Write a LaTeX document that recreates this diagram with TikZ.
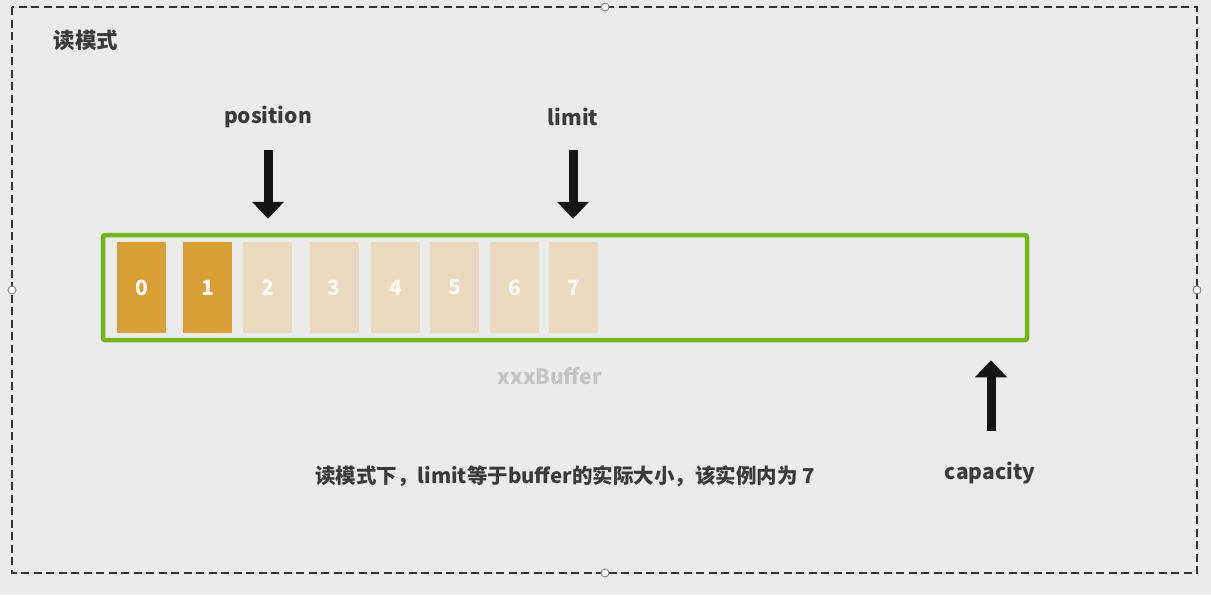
\documentclass[tikz,border=0pt]{standalone}
\usepackage{fontspec}
\setmainfont{Noto Sans CJK SC}
\usetikzlibrary{arrows.meta}
\definecolor{bggray}{HTML}{EBEBEB}
\definecolor{framegray}{HTML}{333333}
\definecolor{textgray}{HTML}{3A3A3A}
\definecolor{bufgreen}{HTML}{72B61C}
\definecolor{darkorange}{HTML}{D99E36}
\definecolor{lightorange}{HTML}{E9D9BF}
\definecolor{pale}{HTML}{C4C4C4}
\tikzset{>={Triangle[width=31pt,length=17pt]}}
\tikzset{
  frame/.style={draw=framegray, line width=2pt, dash pattern=on 8pt off 4.5pt},
  handle/.style={draw=gray, fill=white, line width=0.9pt},
  cell/.style={minimum width=49pt, minimum height=91pt, inner sep=0pt,
    text=white, font=\bfseries\fontsize{21}{21}\selectfont},
  lbl/.style={text=textgray, font=\bfseries\fontsize{21}{21}\selectfont},
  blockarrow/.style={->, line width=9pt, draw=black!92, fill=black!92}
}

\begin{document}
\begin{tikzpicture}[x=1pt,y=-1pt]

\useasboundingbox (0,0) rectangle (1211,595);
\fill[bggray] (0,0) rectangle (1211,595);

%% outer frame
\draw[frame] (12,7) rectangle (1197,573);
\foreach \p in {(605,7),(12,290),(1197,290),(605,573)}
  \draw[handle] \p circle (4pt);

\node[lbl, anchor=west, font=\bfseries\fontsize{21.5}{21.5}\selectfont] (mode) at (50,40) {读模式};

%% buffer
\node[draw=bufgreen, line width=4.5pt, rounded corners=2pt,
  minimum width=924pt, minimum height=105pt] (buf) at (565,287.5) {};
\node[cell, fill=darkorange] (c0) at (141.5,287.5) {0};
\node[cell, fill=darkorange] (c1) at (207.5,287.5) {1};
\foreach \n/\x in {2/267.5,3/334,4/395.5,5/454.5,6/514.5,7/573.5}
  \node[cell, fill=lightorange, text=white!85!lightorange] (c\n) at (\x,287.5) {\n};

\node[lbl, text=pale] (name) at (550,376) {xxxBuffer};

%% pointers
\node[lbl] (pos) at (268,117) {position};
\node[lbl] (lim) at (573,117) {limit};
\node[lbl] (cap) at (990,473) {capacity};

\coordinate (posTop) at (268,150);
\coordinate (limTop) at (573,150);
\coordinate (capBot) at (991,431);
\draw[blockarrow, shorten >=14pt] (posTop) -- (buf.north -| posTop);
\draw[blockarrow, shorten >=14pt] (limTop) -- (buf.north -| limTop);
\draw[blockarrow, shorten >=18pt] (capBot) -- (buf.south -| capBot);

\node[lbl, font=\bfseries\fontsize{20.5}{20.5}\selectfont] (note) at (565,476)
  {读模式下，limit等于buffer的实际大小，该实例内为 7};

\end{tikzpicture}
\end{document}
